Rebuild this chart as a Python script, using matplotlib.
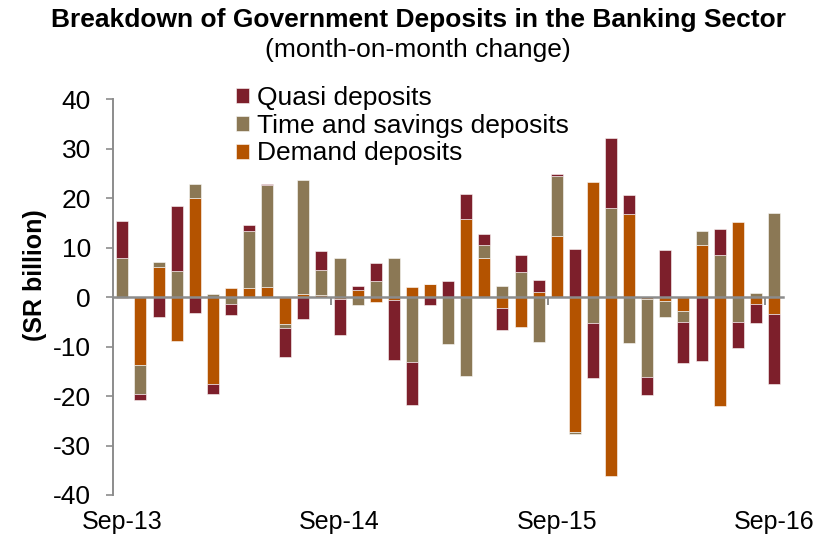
import matplotlib
matplotlib.use("Agg")
import matplotlib.pyplot as plt
import numpy as np

plt.rcParams['font.family'] = ['Liberation Sans', 'DejaVu Sans']
plt.rcParams['axes.unicode_minus'] = False

# ---- data (SR billion, month-on-month change), Sep-13 .. Sep-16 ----
demand = [-0.2, -13.8, 6.1, -8.8, 20.1, -17.5, 1.8, 1.9, 2.0, -5.5, 0.6, 0.5,
          -0.3, 1.4, -0.9, -0.5, 2.0, 2.6, 0.0, 15.8, 7.9, -2.2, -6.1, 1.0,
          12.3, -27.3, 23.2, -36.1, 16.8, -0.3, -0.8, -2.7, 10.6, -22.1, 15.1, -1.4,
          -3.5]
time_sav = [7.9, -5.8, 1.1, 5.2, 2.8, 0.6, -1.3, 11.5, 20.7, -0.7, 23.0, 4.9,
            7.9, -1.5, 3.2, 7.9, -13.1, 0.0, -9.4, -16.0, 2.6, 2.3, 5.1, -9.1,
            12.2, -0.3, -5.2, 18.0, -9.2, -15.9, -3.2, -2.3, 2.8, 8.6, -5.1, 0.8,
            17.0]
quasi = [7.4, -1.2, -4.0, 13.3, -3.2, -2.1, -2.4, 1.1, 0.1, -5.8, -4.4, 4.0,
         -7.4, 0.9, 3.7, -12.3, -8.8, -1.5, 3.2, 5.0, 2.3, -4.5, 3.5, 2.4,
         0.3, 9.8, -11.2, 14.1, 3.9, -3.6, 9.6, -8.4, -13.0, 5.1, -5.2, -3.9,
         -14.1]
series_names = ['Demand deposits', 'Time and savings deposits', 'Quasi deposits']
colors = ['#B45300', '#8B7855', '#7D1F2B']
tick_labels = ['Sep-13', 'Sep-14', 'Sep-15', 'Sep-16']
tick_pos = [0, 12, 24, 36]

FS = 19

fig = plt.figure(figsize=(8.25, 5.41), dpi=100)
ax = fig.add_axes([113.3 / 825, 1 - 495 / 541, (783 - 113.3) / 825, (495 - 99.3) / 541])

x = np.arange(len(demand))
pos_base = np.zeros(len(x))
neg_base = np.zeros(len(x))
handles = []
for vals, name, col in zip([demand, time_sav, quasi], series_names, colors):
    v = np.array(vals)
    base = np.where(v >= 0, pos_base, neg_base)
    b = ax.bar(x, v, width=0.66, bottom=base, color=col,
               edgecolor=(1, 1, 1, 0.55), linewidth=0.7, label=name, zorder=2)
    handles.append(b)
    pos_base = pos_base + np.where(v > 0, v, 0)
    neg_base = neg_base + np.where(v < 0, v, 0)

ax.set_xlim(-0.5, len(x) - 0.5)
ax.set_ylim(-40, 40)
ax.set_yticks(np.arange(-40, 41, 10))

grey = '#8C8C8C'
for s in ['top', 'right']:
    ax.spines[s].set_visible(False)
ax.spines['left'].set_color(grey)
ax.spines['left'].set_linewidth(1.4)
ax.spines['bottom'].set_position(('data', 0))
ax.spines['bottom'].set_color(grey)
ax.spines['bottom'].set_linewidth(1.8)
ax.spines['bottom'].set_zorder(3)

ax.tick_params(axis='y', direction='out', length=5, width=1.2, color=grey,
               labelsize=FS, pad=11)
ax.set_xticks([p - 0.5 for p in tick_pos[1:]])
ax.set_xticklabels([])
ax.tick_params(axis='x', direction='out', length=6, width=1.4, color=grey)

sec = ax.secondary_xaxis('bottom')
sec.set_xticks(tick_pos)
sec.set_xticklabels(tick_labels)
sec.tick_params(axis='x', length=0, labelsize=18, pad=11)
sec.spines['bottom'].set_visible(False)

fig.text(35 / 825, 1 - 275 / 541, '(SR billion)', rotation=90, fontsize=18,
         fontweight='bold', ha='center', va='center')

fig.text(418 / 825, 1 - 20 / 541, 'Breakdown of Government Deposits in the Banking Sector',
         fontsize=FS, fontweight='bold', ha='center', va='center')
fig.text(418 / 825, 1 - 50 / 541, '(month-on-month change)', fontsize=FS,
         ha='center', va='center')

ax.legend(handles[::-1], series_names[::-1], loc='upper left',
          bbox_to_anchor=(236 / 825, 1 - 86 / 541), bbox_transform=fig.transFigure,
          frameon=False, fontsize=FS, handlelength=0.5, handleheight=0.5,
          handletextpad=0.3, labelspacing=0.14, borderaxespad=0, borderpad=0)

fig.savefig('out.png', dpi=100)
